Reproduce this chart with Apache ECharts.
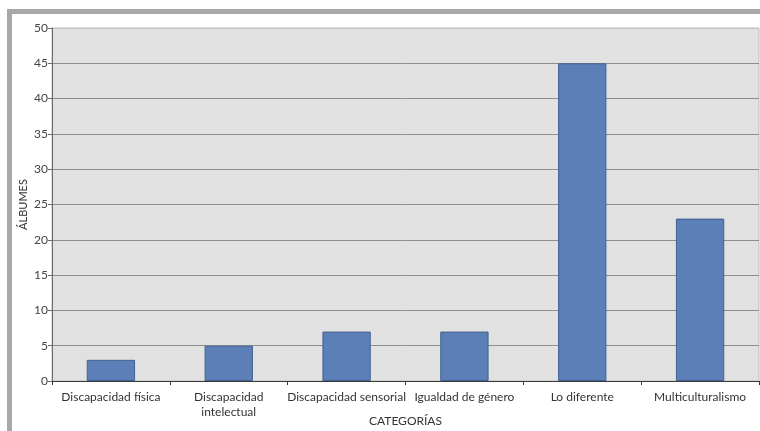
<!DOCTYPE html>
<html><head><meta charset="utf-8">
<script src="https://cdn.jsdelivr.net/npm/echarts@6/dist/echarts.min.js"></script>
<style>html,body{margin:0;padding:0;background:#fff}#c{width:760px;height:431px}</style>
</head><body><div id="c"></div>
<script>
const categories = ['Discapacidad física', 'Discapacidad\nintelectual', 'Discapacidad sensorial', 'Igualdad de género', 'Lo diferente', 'Multiculturalismo'];
const albumValues = [3, 5, 7, 7, 45, 23];
const yTicks = [0, 5, 10, 15, 20, 25, 30, 35, 40, 45, 50];

const chart = echarts.init(document.getElementById('c'), null, {renderer: 'canvas'});
const splitColors = yTicks.map((v, i) => i === yTicks.length - 1 ? '#c4c4c4' : '#8e8e8e');
chart.setOption({
  animation: false,
  backgroundColor: '#ffffff',
  textStyle: {fontFamily: 'Lato'},
  graphic: [
    {type: 'rect', shape: {x: 7, y: 9, width: 753, height: 5}, style: {fill: '#a8a8a8'}, silent: true},
    {type: 'rect', shape: {x: 7, y: 9, width: 5, height: 422}, style: {fill: '#a8a8a8'}, silent: true}
  ],
  grid: {left: 52, top: 28, right: 1, bottom: 50, outerBoundsMode: 'none', containLabel: false, show: true, backgroundColor: '#e1e1e1', borderColor: '#bcbcbc', borderWidth: 1},
  xAxis: {
    type: 'category',
    data: categories,
    name: 'CATEGORÍAS',
    nameLocation: 'middle',
    nameGap: 34,
    nameMoveOverlap: false,
    nameTextStyle: {fontSize: 12, color: '#333', fontFamily: 'Lato'},
    axisLine: {lineStyle: {color: '#3a3a3a', width: 1}},
    axisTick: {show: true, alignWithLabel: false, length: 4, lineStyle: {color: '#3a3a3a'}},
    axisLabel: {fontSize: 12, color: '#333', interval: 0, margin: 9, lineHeight: 15, fontFamily: 'Lato'}
  },
  yAxis: {
    type: 'value',
    min: 0, max: 50, interval: 5,
    name: 'ÁLBUMES',
    nameLocation: 'middle',
    nameGap: 23,
    nameMoveOverlap: false,
    nameRotate: 90,
    nameTextStyle: {fontSize: 11, color: '#333', fontFamily: 'Lato'},
    axisLine: {show: true, lineStyle: {color: '#6a6a6a'}},
    axisTick: {show: true, length: 4, lineStyle: {color: '#6a6a6a'}},
    axisLabel: {fontSize: 12, color: '#444', margin: 4, fontFamily: 'Lato'},
    splitLine: {show: true, lineStyle: {color: splitColors, width: 1}}
  },
  series: [{
    type: 'bar',
    data: albumValues,
    barWidth: '41%',
    itemStyle: {color: '#5b7fb6', borderColor: '#40608f', borderWidth: 1}
  }]
});
</script></body></html>
